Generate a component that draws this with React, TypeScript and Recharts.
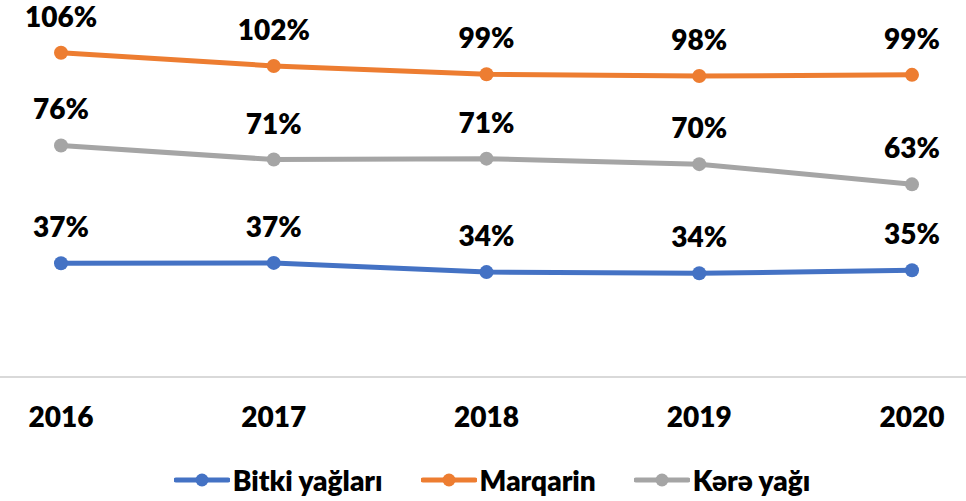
import React from 'react';
import { LineChart, Line, XAxis, YAxis, Legend, LabelList } from 'recharts';

const years = ['2016', '2017', '2018', '2019', '2020'];
const bitkiYaglari = [37.2, 37.3, 34.3, 33.9, 34.9];
const marqarin = [106.0, 101.7, 99.0, 98.4, 98.8];
const kereYagi = [75.7, 71.1, 71.4, 69.6, 63.0];

const seriesNames = ['Bitki yağları', 'Marqarin', 'Kərə yağı'];
const seriesKeys = ['bitki', 'marqarin', 'kere'];
const colors = ['#4472C4', '#ED7D31', '#A5A5A5'];

const data = years.map((y, i) => ({
  year: y,
  bitki: bitkiYaglari[i],
  marqarin: marqarin[i],
  kere: kereYagi[i],
}));

const FONT = 'Lato, "Open Sans", sans-serif';
const WEIGHT = 800;

const PctLabel = (props: any) => {
  const { x, y, value } = props;
  return (
    <text x={x} y={y - 26} textAnchor="middle" fontFamily={FONT} fontWeight={WEIGHT} fontSize={28} fill="#000">
      {Math.round(value)}%
    </text>
  );
};

const YearTick = (props: any) => {
  const { x, y, payload } = props;
  return (
    <text x={x} y={y + 50} textAnchor="middle" fontFamily={FONT} fontWeight={WEIGHT} fontSize={28} fill="#000">
      {payload.value}
    </text>
  );
};

const LegendContent = () => (
  <div style={{ display: 'flex', justifyContent: 'center', alignItems: 'center', paddingLeft: 18, paddingTop: 2, fontFamily: FONT, fontWeight: WEIGHT, fontSize: 28, color: '#000' }}>
    {seriesNames.map((n, i) => (
      <div key={n} style={{ display: 'flex', alignItems: 'center', marginRight: i < 2 ? 38 : 0 }}>
        <svg width={56} height={16} style={{ marginRight: 3 }}>
          <line x1={2} y1={8} x2={54} y2={8} stroke={colors[i]} strokeWidth={5} strokeLinecap="round" />
          <circle cx={28} cy={8} r={6.5} fill={colors[i]} />
        </svg>
        <span>{n}</span>
      </div>
    ))}
  </div>
);

export default function App() {
  return (
    <div style={{ position: 'absolute', left: 0, top: 0, background: '#fff' }}>
      <LineChart width={966} height={501} data={data} margin={{ top: 10, right: 0, bottom: 0, left: 0 }}>
        <XAxis
          dataKey="year"
          padding={{ left: 61, right: 54 }}
          axisLine={{ stroke: '#D9D9D9', strokeWidth: 2 }}
          tickLine={false}
          tickSize={0}
          tickMargin={0}
          height={84}
          tick={<YearTick />}
          interval={0}
        />
        <YAxis hide domain={[0, 120]} />
        <Legend verticalAlign="bottom" height={40} content={<LegendContent />} />
        {seriesKeys.map((k, i) => (
          <Line
            key={k}
            dataKey={k}
            name={seriesNames[i]}
            stroke={colors[i]}
            strokeWidth={5}
            dot={{ r: 7, fill: colors[i], stroke: colors[i], strokeWidth: 0 }}
            activeDot={false}
            isAnimationActive={false}
          >
            <LabelList dataKey={k} content={<PctLabel />} />
          </Line>
        ))}
      </LineChart>
    </div>
  );
}
